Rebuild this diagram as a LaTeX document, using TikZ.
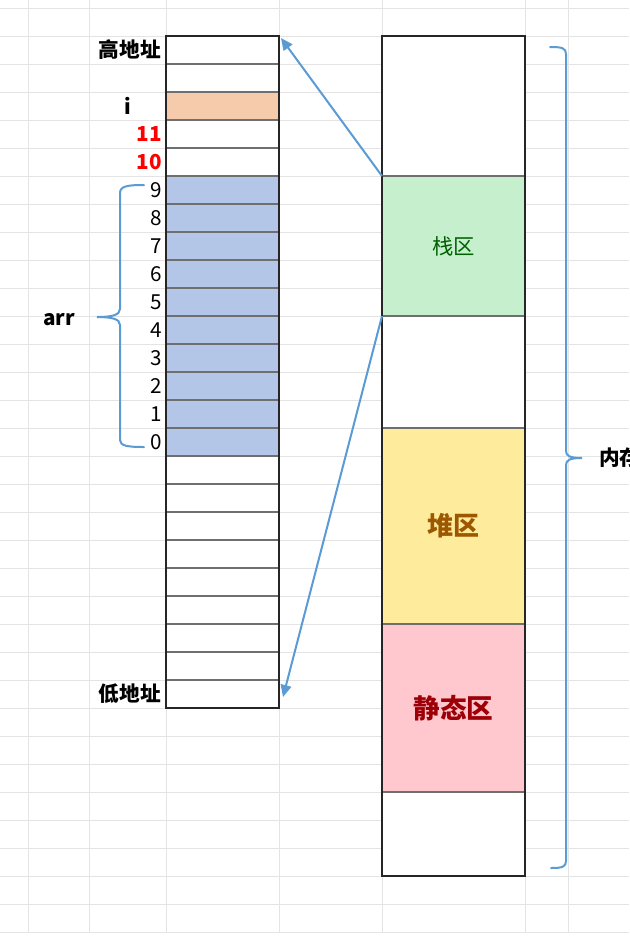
\documentclass[tikz,border=0pt]{standalone}
\usepackage{fontspec}
\setmainfont{Noto Sans CJK SC}
\usetikzlibrary{arrows.meta}
\definecolor{gridc}{HTML}{E4E4E4}
\definecolor{cellline}{HTML}{6F6F6F}
\definecolor{ibox}{HTML}{F6CBAC}
\definecolor{arrbox}{HTML}{B4C6E7}
\definecolor{stackc}{HTML}{C6EFCE}
\definecolor{stacktext}{HTML}{006100}
\definecolor{heapc}{HTML}{FFEB9C}
\definecolor{heaptext}{HTML}{9C5700}
\definecolor{staticc}{HTML}{FFC7CE}
\definecolor{statictext}{HTML}{9C0006}
\definecolor{bluec}{HTML}{5B9BD5}
\definecolor{redc}{HTML}{FF0000}
\begin{document}
\begin{tikzpicture}[x=0.75pt,y=-0.75pt,
  gridline/.style={draw=gridc, line width=0.75pt},
  cell/.style={draw=cellline, line width=1pt, minimum width=84.75pt, minimum height=21pt, inner sep=0pt, outer sep=0pt, anchor=north west},
  region/.style={draw=cellline, line width=1pt, minimum width=107.25pt, inner sep=0pt, outer sep=0pt, anchor=north west, font=\bfseries},
  outerbox/.style={draw=black!85, line width=1.3pt},
  lab/.style={inner sep=0pt, font=\fontsize{15.5pt}{18pt}\selectfont},
  blab/.style={lab, font=\bfseries\fontsize{15.5pt}{18pt}\selectfont},
  conn/.style={draw=bluec, line width=1.5pt, -{Triangle[length=9pt, width=8pt]}},
  bracec/.style={draw=bluec, line width=1.5pt, line cap=round}]
\useasboundingbox (0,0) rectangle (629,947);
\fill[white] (0,0) rectangle (629,947);
% spreadsheet grid
\foreach \k in {0,...,33} \draw[gridline] (0,8+28*\k) -- (629,8+28*\k);
\foreach \x in {28,89,166,279,382,525,568} \draw[gridline] (\x,0) -- (\x,932);
% left column (memory cells)
\foreach \k in {0,1,3,4} \node[cell, fill=white] (L\k) at (166,36+28*\k) {};
\node[cell, fill=ibox] (L2) at (166,92) {};
\foreach \k in {5,...,14} \node[cell, fill=arrbox] (L\k) at (166,36+28*\k) {};
\foreach \k in {15,...,23} \node[cell, fill=white] (L\k) at (166,36+28*\k) {};
\draw[outerbox] (L0.north west) rectangle (L23.south east);
% right column (memory regions)
\node[region, minimum height=105pt, fill=white] (R1) at (382,36) {};
\node[region, minimum height=105pt, fill=stackc, text=stacktext, font=\fontsize{16pt}{18pt}\selectfont] (R2) at (382,176) {栈区};
\node[region, minimum height=84pt, fill=white] (R3) at (382,316) {};
\node[region, minimum height=147pt, fill=heapc, text=heaptext, font=\bfseries\fontsize{19.5pt}{22pt}\selectfont] (R4) at (382,428) {堆区};
\node[region, minimum height=126pt, fill=staticc, text=statictext, font=\bfseries\fontsize{20pt}{22pt}\selectfont] (R5) at (382,624) {静态区};
\node[region, minimum height=63pt, fill=white] (R6) at (382,792) {};
\draw[outerbox] (R1.north west) rectangle (R6.south east);
% labels
\node[blab, anchor=east] (hi) at ([shift={(-5,0)}]L0.west) {高地址};
\node[blab] (iv) at ([shift={(-38,0)}]L2.west) {i};
\node[blab, anchor=east, text=redc] (n11) at ([shift={(-4,0)}]L3.west) {11};
\node[blab, anchor=east, text=redc] (n10) at ([shift={(-4,0)}]L4.west) {10};
\foreach \k/\d in {5/9,6/8,7/7,8/6,9/5,10/4,11/3,12/2,13/1,14/0}
  \node[lab, anchor=east] (n\d) at ([shift={(-4,0)}]L\k.west) {\d};
\node[blab, anchor=east] (lo) at ([shift={(-5,0)}]L23.west) {低地址};
\node[blab] (arr) at (59,320) {arr};
\node[blab, anchor=west] (mem) at (599,458) {内存};
% connectors
\draw[conn] (R2.north west) -- ([shift={(2,2)}]L0.north east);
\draw[conn] (R3.north west) -- ([shift={(4,3)}]L23.east);
% braces
\draw[bracec] (144,185) .. controls (128,185) and (120,186) .. (120,193) -- (120,309)
  .. controls (120,315) and (112,317) .. (97,317)
  .. controls (112,317) and (120,319) .. (120,325) -- (120,440)
  .. controls (120,446) and (128,447) .. (144,447);
\draw[bracec] (550,47) .. controls (562,47) and (566,48) .. (566,54) -- (566,451)
  .. controls (566,456) and (570,458) .. (582,458)
  .. controls (570,458) and (566,460) .. (566,465) -- (566,861)
  .. controls (566,867) and (562,868) .. (551,868);
\end{tikzpicture}
\end{document}
